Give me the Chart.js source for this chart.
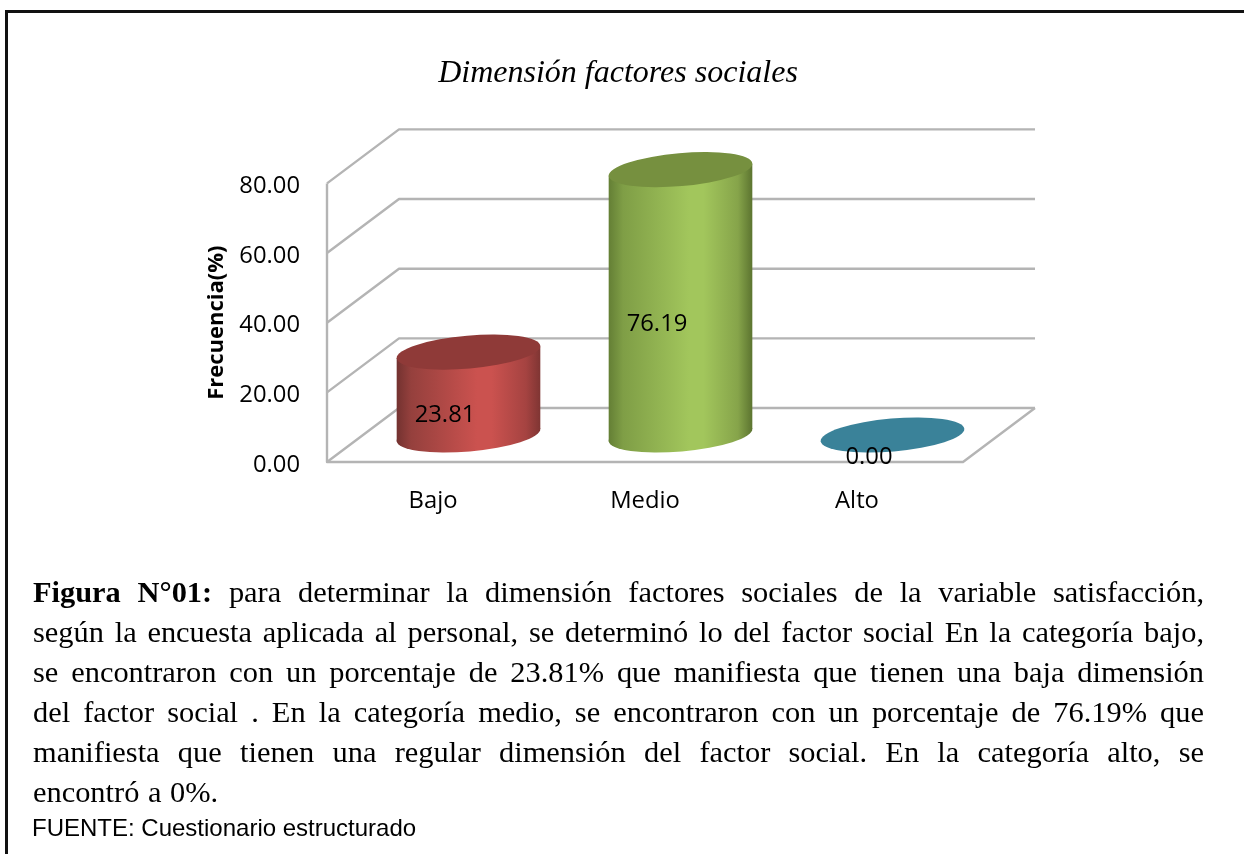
<!DOCTYPE html>
<html lang="es">
<head>
<meta charset="utf-8">
<title>Dimensión factores sociales</title>
<script src="https://cdn.jsdelivr.net/npm/chart.js@4"></script>
<style>
html,body{margin:0;padding:0;background:#fff;overflow:hidden}
#page{position:relative;width:1244px;height:854px;overflow:hidden;filter:blur(0.35px)}
#frame{position:absolute;left:5px;top:10px;right:-10px;bottom:-10px;border:3px solid #111}
#chartbox{position:absolute;left:0;top:0;width:1236px;height:560px}
#caption{position:absolute;left:33px;top:572px;width:1171px;font-family:"Liberation Serif",serif;font-size:30.4px;line-height:40.1px;color:#000}
#caption div{text-align:justify;text-align-last:justify;white-space:nowrap}
#caption div.last{text-align-last:left;word-spacing:1px}
#source{position:absolute;left:32px;top:816px;font-family:"Liberation Sans",sans-serif;font-size:24px;line-height:24px;color:#000}
</style>
</head>
<body>
<div id="page">
  <div id="frame"></div>
  <div id="chartbox"><canvas id="c"></canvas></div>
  <div id="caption">
    <div><b>Figura N°01:</b> para determinar la dimensión factores sociales de la variable satisfacción,</div>
    <div>según la encuesta aplicada al personal, se determinó lo del factor social En la categoría bajo,</div>
    <div>se encontraron con un porcentaje de 23.81% que manifiesta que tienen una baja dimensión</div>
    <div>del factor social . En la categoría medio, se encontraron con un porcentaje de 76.19% que</div>
    <div>manifiesta que tienen una regular dimensión del factor social. En la categoría alto, se</div>
    <div class="last">encontró a 0%.</div>
  </div>
  <div id="source">FUENTE: Cuestionario estructurado</div>
</div>
<script>
const categories = ["Bajo", "Medio", "Alto"];
const frecuencia = [23.81, 76.19, 0.00];
const sideColors = [
  ["#733230", "#95403d", "#cb524f", "#a54341", "#7f3533"],
  ["#647f35", "#7f9e46", "#a2c65c", "#86a44a", "#5c7430"],
  ["#3a8299", "#3a8299", "#3a8299", "#3a8299", "#3a8299"]
];
const topColors = ["#8f3a38", "#76903f", "#3a8299"];
const yTicks = [0, 20, 40, 60, 80];

const DEPTH_X = 72, DEPTH_Y = -54;      // wall depth
const ROT = -5 * Math.PI / 180, RY = 16.5;
const FONT_SIZE = 23.8;
const tickFont = {family: '"Open Sans"', size: FONT_SIZE};

class CylinderElement extends Chart.BarElement {
  draw(ctx) {
    const {x, y, base, width} = this;
    const o = this.$context.raw, i = this.$context.dataIndex;
    const cx = x + DEPTH_X / 2 - 0.5, rx = width / 2;
    const yTop = y + DEPTH_Y / 2, yBase = base + DEPTH_Y / 2;
    const c = Math.cos(ROT), s = Math.sin(ROT);
    const hx = Math.sqrt(rx * rx * c * c + RY * RY * s * s);
    const hy = (rx * rx - RY * RY) * s * c / hx;
    ctx.save();
    if (o > 0) {
      const g = ctx.createLinearGradient(cx - hx, 0, cx + hx, 0);
      const col = sideColors[i];
      g.addColorStop(0, col[0]);
      g.addColorStop(0.1, col[1]);
      g.addColorStop(0.56, col[2]);
      g.addColorStop(0.66, col[2]);
      g.addColorStop(0.9, col[3]);
      g.addColorStop(1, col[4]);
      ctx.fillStyle = g;
      ctx.beginPath();
      ctx.moveTo(cx - hx, yTop - hy);
      ctx.lineTo(cx - hx, yBase - hy);
      ctx.lineTo(cx + hx, yBase + hy);
      ctx.lineTo(cx + hx, yTop + hy);
      ctx.closePath();
      ctx.fill();
      ctx.beginPath();
      ctx.ellipse(cx, yBase, rx, RY, ROT, 0, Math.PI * 2);
      ctx.fill();
    }
    ctx.fillStyle = topColors[i];
    ctx.beginPath();
    ctx.ellipse(cx, yTop, rx, RY, ROT, 0, Math.PI * 2);
    ctx.fill();
    ctx.restore();
  }
}
CylinderElement.id = "cylinder";
CylinderElement.defaults = Chart.BarElement.defaults;
class CylinderController extends Chart.BarController {}
CylinderController.id = "cylinder";
CylinderController.defaults = Object.assign({}, Chart.BarController.defaults, {dataElementType: "cylinder"});
CylinderController.overrides = Chart.BarController.overrides;
Chart.register(CylinderElement, CylinderController);

const walls = {
  id: "walls",
  afterLayout(chart) {
    const t = chart.titleBlock;
    if (t) { t.left += 34.5; t.right += 34.5; }
  },
  beforeDatasetsDraw(chart) {
    const {ctx, scales: {x, y}} = chart;
    const l = x.left, r = x.right;
    ctx.save();
    ctx.strokeStyle = "#b4b4b4";
    ctx.lineWidth = 2.4;
    ctx.lineJoin = "round";
    yTicks.forEach(v => {
      const py = y.getPixelForValue(v);
      ctx.beginPath();
      ctx.moveTo(l, py);
      ctx.lineTo(l + DEPTH_X, py + DEPTH_Y);
      ctx.lineTo(r + DEPTH_X, py + DEPTH_Y);
      ctx.stroke();
    });
    const y0 = y.getPixelForValue(0), yMax = y.getPixelForValue(yTicks[yTicks.length - 1]);
    ctx.beginPath();
    ctx.moveTo(l, yMax);
    ctx.lineTo(l, y0);
    ctx.lineTo(r, y0);
    ctx.lineTo(r + DEPTH_X, y0 + DEPTH_Y);
    ctx.stroke();
    ctx.restore();
  }
};
const valueLabels = {
  id: "valueLabels",
  afterDatasetsDraw(chart) {
    const {ctx} = chart;
    const meta = chart.getDatasetMeta(0);
    ctx.save();
    ctx.font = FONT_SIZE + 'px "Open Sans"';
    ctx.fillStyle = "#000";
    ctx.textAlign = "center";
    ctx.textBaseline = "middle";
    meta.data.forEach((el, i) => {
      ctx.fillText(frecuencia[i].toFixed(2), el.x + 12, (el.y + el.base) / 2 - 5);
    });
    ctx.restore();
  }
};

new Chart(document.getElementById("c"), {
  type: "cylinder",
  data: {
    labels: categories,
    datasets: [{
      label: "Frecuencia(%)",
      data: frecuencia,
      backgroundColor: ["#cb524f", "#a2c65c", "#3a8299"],
      categoryPercentage: 1,
      barPercentage: 0.68,
      clip: false
    }]
  },
  plugins: [walls, valueLabels],
  options: {
    responsive: true,
    maintainAspectRatio: false,
    animation: false,
    layout: {padding: {left: 204, right: 273, top: 0, bottom: 0}},
    plugins: {
      legend: {display: false},
      tooltip: {enabled: false},
      title: {
        display: true,
        text: "Dimensión factores sociales",
        color: "#000",
        font: {family: '"Liberation Serif"', size: 32, style: "italic", weight: "normal"},
        padding: {top: 54, bottom: 91}
      }
    },
    scales: {
      x: {
        type: "category",
        grid: {display: false},
        border: {display: false},
        ticks: {color: "#000", font: tickFont, padding: 17, maxRotation: 0},
        afterFit(s) { s.height = 98; }
      },
      y: {
        type: "linear",
        min: 0,
        max: 80,
        grid: {display: false},
        border: {display: false},
        ticks: {color: "#000", font: tickFont, stepSize: 20, padding: 19, labelOffset: 3,
                callback: v => v.toFixed(2)},
        title: {display: true, text: "Frecuencia(%)", color: "#000",
                font: {family: '"Open Sans"', size: 22, weight: "bold"}, padding: 0},
        afterFit(s) { s.width = 123; }
      }
    }
  }
});
</script>
</body>
</html>
